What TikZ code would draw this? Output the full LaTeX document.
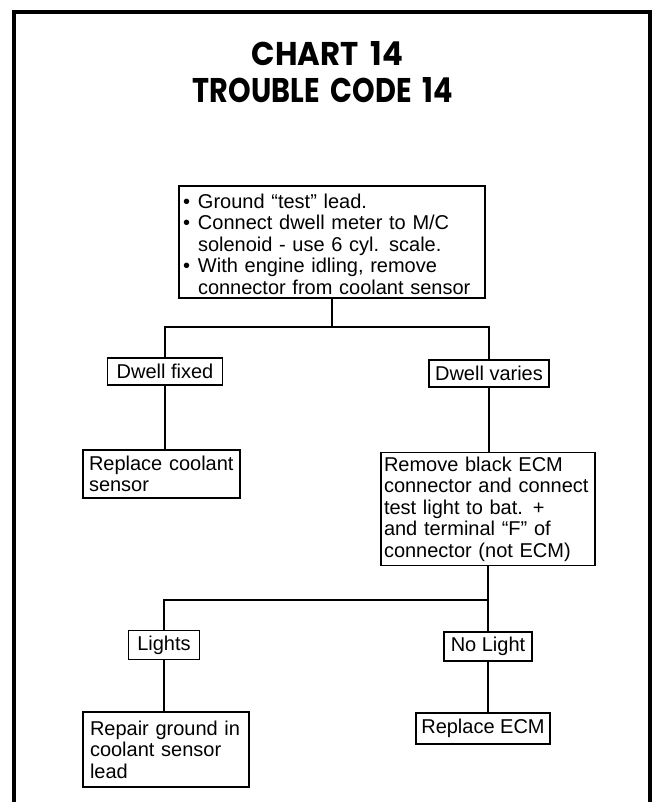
\documentclass[tikz,border=0pt]{standalone}
\usepackage{fontspec}
\usepackage{graphicx}
\setmainfont{Liberation Sans}
\newfontfamily\titlefont{Poppins}
\begin{document}
\begin{tikzpicture}[x=1pt,y=-1pt,
  frame/.style={line width=4pt},
  link/.style={line width=1.9pt},
  box/.style={draw, line width=1.9pt, inner ysep=0pt, inner xsep=5pt,
    font=\fontsize{20}{21.5}\selectfont},
  lbox/.style={box, align=left},
  sbox/.style={box, align=center, inner xsep=0pt},
  title/.style={anchor=base, inner sep=0pt}]
\useasboundingbox (0,0) rectangle (659,802);
% open frame round the chart
\draw[frame] (14,802) -- (14,12) -- (650,12) -- (650,802);
% heading
\node[title] (t1) at (327.5,66)
  {\resizebox{151pt}{24pt}{\titlefont\bfseries CHART\hspace{0.38em}14}};
\node[title] (t2) at (323,103)
  {\resizebox{260pt}{25pt}{\titlefont\bfseries TROUBLE\hspace{0.38em}CODE\hspace{0.38em}14}};
% boxes
\node[lbox, minimum width=306, minimum height=112, text width=298, inner xsep=4pt] (start) at (332,242)
  {\rule{0pt}{19pt}\makebox[15pt][l]{\textbullet}Ground “test” lead.\\
   \makebox[15pt][l]{\textbullet}Connect dwell meter to M/C\\
   \hspace*{15pt}solenoid - use 6 cyl. scale.\\
   \makebox[15pt][l]{\textbullet}With engine idling, remove\\
   \hspace*{15pt}connector from coolant sensor};
\node[sbox, minimum width=115, minimum height=27] (dfix) at (165,371.5) {Dwell fixed};
\node[sbox, minimum width=120, minimum height=27] (dvar) at (489,373.5) {Dwell varies};
\node[lbox, minimum width=157, minimum height=48, text width=145, inner xsep=6pt] (repcool) at (161.5,474)
  {Replace coolant\\sensor};
\node[lbox, minimum width=214, minimum height=113, text width=208, inner xsep=3pt] (remove) at (488,509)
  {Remove black ECM\\connector and connect\\test light to bat. +\\and terminal “F” of\\connector (not ECM)};
\node[sbox, minimum width=71, minimum height=29] (lights) at (164,645) {Lights};
\node[sbox, minimum width=88, minimum height=29] (nolight) at (488,646.5) {No Light};
\node[lbox, minimum width=166, minimum height=75, text width=152, inner xsep=7pt] (repair) at (166,749.5)
  {Repair ground in\\coolant sensor\\lead};
\node[sbox, minimum width=134, minimum height=31] (recm) at (483,728.5) {Replace ECM};
% junctions of the branch lines
\coordinate (j1) at (332,327);
\coordinate (j2) at (488,600);
% connectors
\draw[link] (start.south) -- (j1);
\draw[link] (dfix.north) |- (j1) -| (dvar.north);
\draw[link] (dfix.south) -- (dfix.south |- repcool.north);
\draw[link] (dvar.south) -- (dvar.south |- remove.north);
\draw[link] (remove.south) -- (j2);
\draw[link] (j2) -| (lights.north);
\draw[link] (j2) -- (nolight.north);
\draw[link] (lights.south) -- (lights.south |- repair.north);
\draw[link] (nolight.south) -- (nolight.south |- recm.north);
\end{tikzpicture}
\end{document}
